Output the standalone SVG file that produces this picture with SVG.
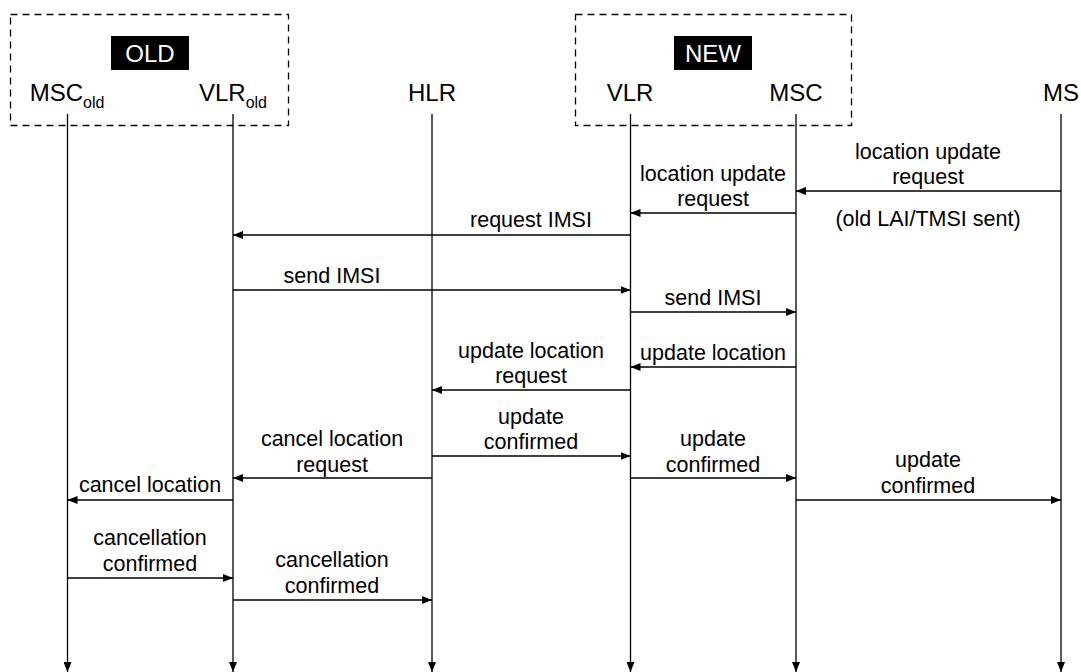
<svg xmlns="http://www.w3.org/2000/svg" width="1081" height="672" viewBox="0 0 1081 672">
  <defs>
    <marker id="head" markerWidth="10" markerHeight="8" refX="10" refY="4" orient="auto" markerUnits="userSpaceOnUse">
      <path d="M0,0 L10,4 L0,8 Z" fill="#000"/>
    </marker>
    <style>
      .txt { font-family: "Liberation Sans", Arial, sans-serif; font-size: 21.5px; fill: #000; text-anchor: middle; }
      .hdr { font-family: "Liberation Sans", Arial, sans-serif; font-size: 24px; fill: #000; text-anchor: middle; }
      .sub { font-size: 16px; }
      .tag { font-family: "Liberation Sans", Arial, sans-serif; font-size: 24px; fill: #fff; text-anchor: middle; }
      .box { fill: none; stroke: #000; stroke-width: 1.3; stroke-dasharray: 7 5; }
      .life { stroke: #000; stroke-width: 1.3; fill: none; marker-end: url(#head); }
      .msg { stroke: #000; stroke-width: 1.3; fill: none; marker-end: url(#head); }
    </style>
  </defs>
  <rect width="1081" height="672" fill="#fff"/>

  <!-- groupings of old and new network entities -->
  <g id="group-old">
    <rect class="box" x="10.5" y="14.5" width="278" height="111"/>
    <rect x="111" y="36" width="78" height="34" fill="#000"/>
    <text class="tag" x="150" y="62">OLD</text>
  </g>
  <g id="group-new">
    <rect class="box" x="575.5" y="14.5" width="276" height="111"/>
    <rect x="674" y="36" width="78" height="34" fill="#000"/>
    <text class="tag" x="713" y="62">NEW</text>
  </g>

  <!-- participants with lifelines -->
  <g id="msc-old">
    <text class="hdr" x="67" y="101">MSC<tspan class="sub" dy="7">old</tspan></text>
    <line class="life" x1="67.5" y1="114" x2="67.5" y2="672"/>
  </g>
  <g id="vlr-old">
    <text class="hdr" x="233" y="101">VLR<tspan class="sub" dy="7">old</tspan></text>
    <line class="life" x1="233" y1="114" x2="233" y2="672"/>
  </g>
  <g id="hlr">
    <text class="hdr" x="432" y="101">HLR</text>
    <line class="life" x1="432" y1="114" x2="432" y2="672"/>
  </g>
  <g id="vlr-new">
    <text class="hdr" x="630" y="101">VLR</text>
    <line class="life" x1="630.5" y1="114" x2="630.5" y2="672"/>
  </g>
  <g id="msc-new">
    <text class="hdr" x="796" y="101">MSC</text>
    <line class="life" x1="796" y1="114" x2="796" y2="672"/>
  </g>
  <g id="ms">
    <text class="hdr" x="1061" y="101">MS</text>
    <line class="life" x1="1061" y1="114" x2="1061" y2="672"/>
  </g>

  <!-- messages -->
  <g id="connectors">
    <line class="msg" x1="1061" y1="191" x2="796" y2="191"/>
    <line class="msg" x1="796" y1="213" x2="630.5" y2="213"/>
    <line class="msg" x1="630.5" y1="235" x2="233" y2="235"/>
    <line class="msg" x1="233" y1="290" x2="630.5" y2="290"/>
    <line class="msg" x1="630.5" y1="312" x2="796" y2="312"/>
    <line class="msg" x1="796" y1="367" x2="630.5" y2="367"/>
    <line class="msg" x1="630.5" y1="390" x2="432" y2="390"/>
    <line class="msg" x1="432" y1="456" x2="630.5" y2="456"/>
    <line class="msg" x1="432" y1="478" x2="233" y2="478"/>
    <line class="msg" x1="630.5" y1="478" x2="796" y2="478"/>
    <line class="msg" x1="233" y1="500" x2="67.5" y2="500"/>
    <line class="msg" x1="796" y1="500" x2="1061" y2="500"/>
    <line class="msg" x1="67.5" y1="578" x2="233" y2="578"/>
    <line class="msg" x1="233" y1="600" x2="432" y2="600"/>
  </g>

  <!-- message labels -->
  <g id="labels">
    <text class="txt" x="928" y="159">location update</text>
    <text class="txt" x="928" y="184">request</text>
    <text class="txt" x="928" y="226">(old LAI/TMSI sent)</text>

    <text class="txt" x="713" y="181">location update</text>
    <text class="txt" x="713" y="206">request</text>

    <text class="txt" x="531" y="227">request IMSI</text>
    <text class="txt" x="332" y="283">send IMSI</text>
    <text class="txt" x="713" y="305">send IMSI</text>
    <text class="txt" x="713" y="360">update location</text>

    <text class="txt" x="531" y="358">update location</text>
    <text class="txt" x="531" y="383">request</text>

    <text class="txt" x="531" y="424">update</text>
    <text class="txt" x="531" y="449">confirmed</text>

    <text class="txt" x="332" y="446">cancel location</text>
    <text class="txt" x="332" y="472">request</text>

    <text class="txt" x="713" y="446">update</text>
    <text class="txt" x="713" y="472">confirmed</text>

    <text class="txt" x="150" y="492">cancel location</text>

    <text class="txt" x="928" y="467">update</text>
    <text class="txt" x="928" y="493">confirmed</text>

    <text class="txt" x="150" y="545">cancellation</text>
    <text class="txt" x="150" y="571">confirmed</text>

    <text class="txt" x="332" y="567">cancellation</text>
    <text class="txt" x="332" y="593">confirmed</text>
  </g>
</svg>
